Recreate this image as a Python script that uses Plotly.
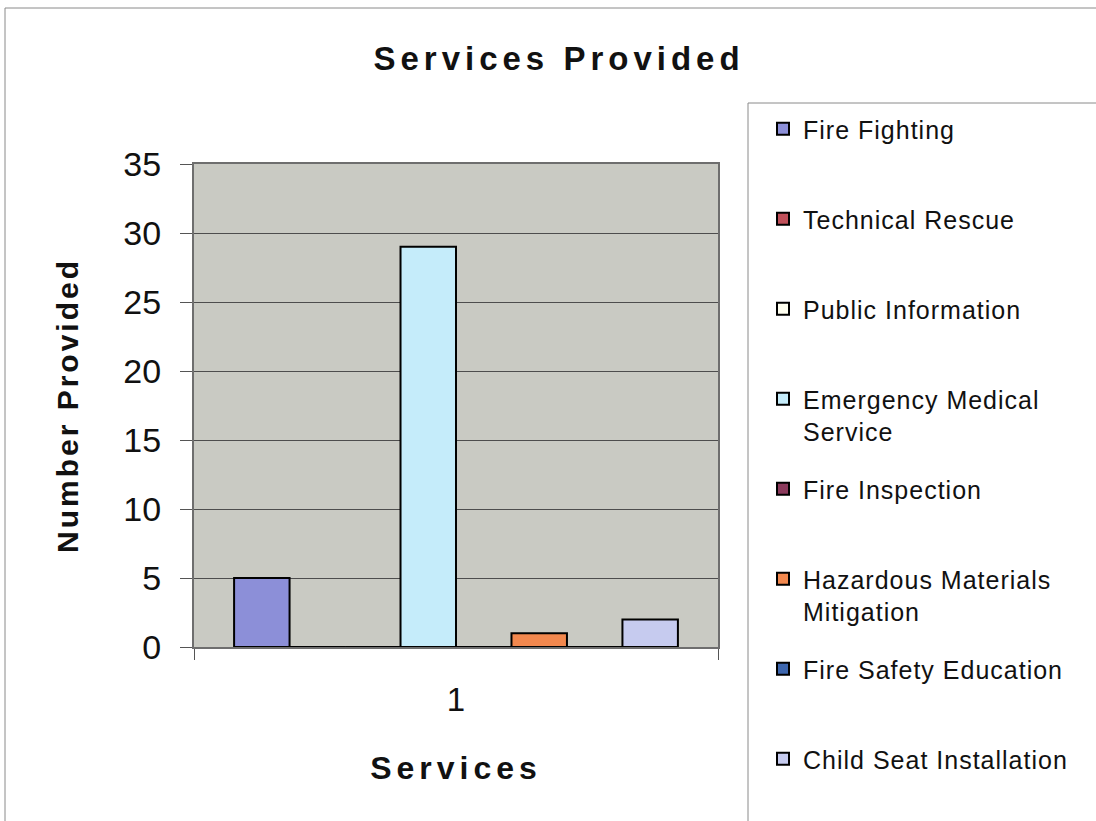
import plotly.graph_objects as go

# Services provided, one category, one bar per service
category = ["1"]
services = [
    "Fire Fighting",
    "Technical Rescue",
    "Public Information",
    "Emergency Medical<br>Service",
    "Fire Inspection",
    "Hazardous Materials<br>Mitigation",
    "Fire Safety Education",
    "Child Seat Installation",
]
counts = [5, 0, 0, 29, 0, 1, 0, 2]
colors = ["#8c8fd8", "#c0505a", "#fffff0", "#c5ecfa",
          "#8b3a5c", "#f2884e", "#3d66ae", "#c6cbef"]
y_ticks = [0, 5, 10, 15, 20, 25, 30, 35]

W, H = 1096, 821
L, R, T, B = 194, 718, 164, 647  # plot area in pixels


def px_x(px):
    return (px - L) / (R - L)


def px_y(py):
    return (B - py) / (B - T)


FONT = "Liberation Sans, Arial, sans-serif"


def spaced(text, sp):
    return f'<span style="letter-spacing:{sp}px">{text}</span>'


fig = go.Figure()
for i, (name, val, col) in enumerate(zip(services, counts, colors)):
    # every legend entry takes two lines so the entries are evenly spaced
    label = name if "<br>" in name else name + "<br>\u00a0"
    fig.add_trace(go.Bar(
        x=category, y=[val], name=spaced(label, 1),
        legendgroup=f"g{i}",
        marker=dict(color=col, line=dict(color="#000000", width=2)),
    ))

# outer chart frame and legend panel (both run off the right/bottom edges)
fig.add_shape(type="rect", xref="paper", yref="paper",
              x0=px_x(5), x1=px_x(1140), y0=px_y(860), y1=px_y(8),
              line=dict(color="#8a8a8a", width=1), fillcolor="rgba(0,0,0,0)",
              layer="below")
fig.add_shape(type="rect", xref="paper", yref="paper",
              x0=px_x(748), x1=px_x(1140), y0=px_y(860), y1=px_y(103),
              line=dict(color="#8a8a8a", width=1), fillcolor="white",
              layer="below")

fig.update_layout(
    width=W, height=H,
    margin=dict(l=L, r=W - R, t=T, b=H - B, pad=0),
    paper_bgcolor="white",
    plot_bgcolor="#c9cac3",
    barmode="group",
    bargap=0.153,
    bargroupgap=0,
    font=dict(family=FONT, color="#111111"),
    title=dict(
        text=spaced("<b>Services Provided</b>", 5),
        font=dict(family=FONT, size=33, color="#111111"),
        xref="container", yref="container",
        x=559 / W, y=1 - 58 / H, xanchor="center", yanchor="middle",
    ),
    legend=dict(
        x=px_x(763), y=px_y(106), xanchor="left", yanchor="top",
        bgcolor="rgba(0,0,0,0)", borderwidth=0,
        font=dict(family=FONT, size=25, color="#111111"),
        traceorder="grouped", tracegroupgap=22, valign="top",
        maxheight=800,
    ),
    showlegend=True,
)

fig.update_xaxes(
    type="category",
    showgrid=False,
    ticks="outside", tickson="boundaries", ticklen=11, tickcolor="#555555",
    tickfont=dict(family=FONT, size=33, color="#111111"),
    ticklabelstandoff=22,
    showline=True, linecolor="#6e6e6e", linewidth=2, mirror=True,
    title=dict(text=spaced("<b>Services</b>", 5),
               font=dict(family=FONT, size=32, color="#111111"),
               standoff=40),
)
fig.update_yaxes(
    range=[0, 35], tickvals=y_ticks,
    showgrid=True, gridcolor="#4d4d4d", gridwidth=1,
    zeroline=True, zerolinecolor="#333333", zerolinewidth=1,
    ticks="outside", ticklen=12, tickcolor="#555555",
    tickfont=dict(family=FONT, size=34, color="#111111"),
    ticklabelstandoff=12,
    showline=True, linecolor="#6e6e6e", linewidth=2, mirror=True,
    title=dict(text=spaced("<b>Number Provided</b>", 3),
               font=dict(family=FONT, size=30, color="#111111"),
               standoff=36),
)

fig.write_html("out.html")
